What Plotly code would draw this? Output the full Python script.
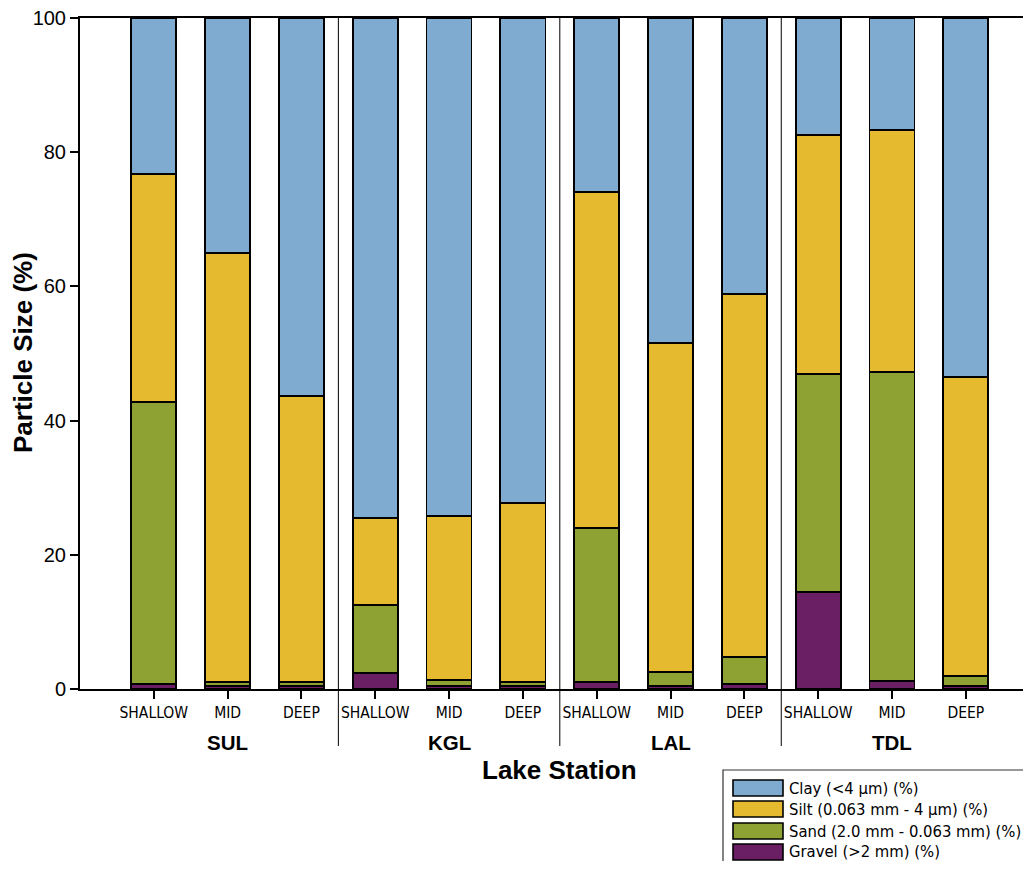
import plotly.graph_objects as go

stations = ["SHALLOW", "MID", "DEEP"] * 4
lakes = ["SUL", "KGL", "LAL", "TDL"]

gravel = [0.8, 0.5, 0.5, 2.4, 0.5, 0.5, 1.0, 0.5, 0.8, 14.5, 1.2, 0.5]
sand   = [42.0, 0.5, 0.5, 10.1, 0.8, 0.5, 23.0, 2.0, 4.0, 32.4, 46.0, 1.4]
silt   = [34.0, 64.0, 42.7, 13.0, 24.5, 26.7, 50.1, 49.1, 54.1, 35.7, 36.1, 44.6]
clay   = [23.2, 35.0, 56.3, 74.5, 74.2, 72.3, 25.9, 48.4, 41.1, 17.4, 16.7, 53.5]

series_names = ["Gravel (>2 mm) (%)", "Sand (2.0 mm - 0.063 mm) (%)",
                "Silt (0.063 mm - 4 μm) (%)", "Clay (<4 μm) (%)"]
series_vals = [gravel, sand, silt, clay]
colors = ["#6A1E64", "#8DA232", "#E5BA2E", "#7FABD0"]

yticks = [0, 20, 40, 60, 80, 100]

# page has an 8px body margin; figure sized to fit inside it
OFF = 8
W, H = 1031 - 2 * OFF, 869 - 2 * OFF
ML, MR, MT, MB = 80 - OFF, 0, 18 - OFF, 869 - OFF - 689
PW, PH = W - ML - MR, H - MT - MB


def px_x(p):
    return (p - OFF - ML) / PW


def px_y(p):
    return (H - MB - (p - OFF)) / PH


xpos = list(range(len(stations)))
fig = go.Figure()
for name, vals, col in zip(series_names, series_vals, colors):
    fig.add_trace(go.Bar(x=xpos, y=vals, name=name, width=0.61, showlegend=False,
                         marker=dict(color=col, line=dict(color="black", width=1.8))))

font_main = "Liberation Sans, Arial, sans-serif"
font_narrow = "Liberation Sans Narrow, Arial Narrow, DejaVu Sans Condensed, sans-serif"

fig.update_layout(
    barmode="stack",
    width=W, height=H,
    margin=dict(l=ML, r=MR, t=MT, b=MB, autoexpand=False),
    plot_bgcolor="white", paper_bgcolor="white",
    font=dict(family=font_main, color="black"),
    xaxis=dict(range=[-1.0, 11.775], tickvals=xpos, ticktext=stations,
               showline=True, linecolor="black", linewidth=2, mirror=True,
               ticks="outside", ticklen=8, tickwidth=2, tickcolor="black",
               tickfont=dict(family=font_narrow, size=15.5), showgrid=False,
               zeroline=False, automargin=False),
    yaxis=dict(range=[0, 100], tickvals=yticks, showline=True, linecolor="black",
               linewidth=2, ticks="outside", ticklen=8, tickwidth=2, tickcolor="black",
               tickfont=dict(size=20), showgrid=False, zeroline=False, automargin=False,
               ticklabeloverflow="allow"),
)

# axis titles
fig.add_annotation(x=px_x(559), y=px_y(770), xref="paper", yref="paper",
                   text="<b>Lake Station</b>", showarrow=False,
                   font=dict(size=26), xanchor="center", yanchor="middle")
fig.add_annotation(x=px_x(23), y=px_y(353), xref="paper", yref="paper",
                   text="<b>Particle Size (%)</b>", showarrow=False, textangle=-90,
                   font=dict(size=26), xanchor="center", yanchor="middle")

# group labels and separators
for k, lake in enumerate(lakes):
    fig.add_annotation(x=3 * k + 1, y=px_y(742), xref="x", yref="paper", text=f"<b>{lake}</b>",
                       showarrow=False, font=dict(size=20.5), yanchor="middle")
    if k > 0:
        fig.add_shape(type="line", x0=3 * k - 0.5, x1=3 * k - 0.5, xref="x",
                      y0=px_y(746), y1=1, yref="paper", line=dict(color="black", width=1))

# legend box (Clay on top, Gravel at bottom)
fig.add_shape(type="rect", xref="paper", yref="paper",
              x0=px_x(723), x1=px_x(1050), y0=px_y(770), y1=px_y(890),
              line=dict(color="#333333", width=1.2), fillcolor="white")
item_y = [852, 831, 809, 788]  # gravel, sand, silt, clay
for name, col, cy in zip(series_names, colors, item_y):
    fig.add_shape(type="rect", xref="paper", yref="paper",
                  x0=px_x(733), x1=px_x(783), y0=px_y(cy + 8), y1=px_y(cy - 8),
                  line=dict(color="black", width=1.6), fillcolor=col)
    fig.add_annotation(x=px_x(787), y=px_y(cy), xref="paper", yref="paper",
                       text=name, showarrow=False, xanchor="left", yanchor="middle",
                       font=dict(family=font_narrow, size=16.5))

fig.write_html("out.html")
